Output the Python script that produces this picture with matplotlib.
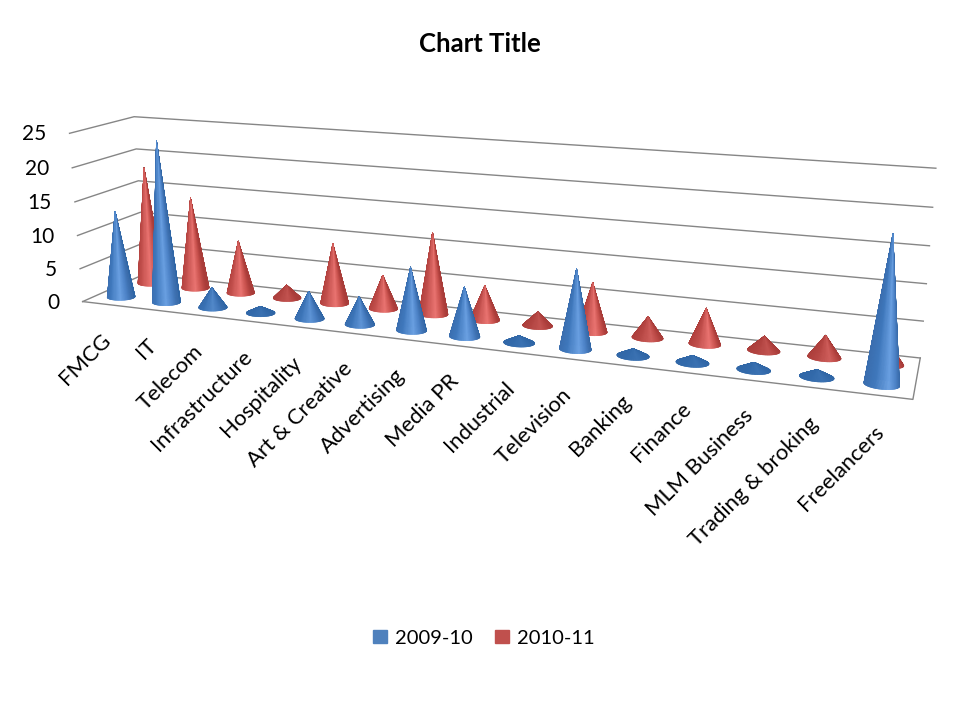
import numpy as np
import matplotlib
matplotlib.use('Agg')
import matplotlib.pyplot as plt
from matplotlib.collections import PolyCollection
from matplotlib.colors import LinearSegmentedColormap, to_rgb
from matplotlib.patches import Patch

plt.rcParams['font.family'] = ['Lato', 'DejaVu Sans']

categories = ['FMCG', 'IT', 'Telecom', 'Infrastructure', 'Hospitality', 'Art & Creative',
              'Advertising', 'Media PR', 'Industrial', 'Television', 'Banking', 'Finance',
              'MLM Business', 'Trading & broking', 'Freelancers']
values_2009 = [13, 24, 3, 1, 4, 4, 9, 7, 1, 11, 1, 1, 1, 1, 19]
values_2010 = [18, 14, 8, 2, 9, 5, 12, 5, 2, 7, 3, 5, 2, 3, 3]
y_ticks = [0, 5, 10, 15, 20, 25]

# reference points of the 3d chart: (category, depth, value) -> pixel
world = [(0, 0, 0), (15, 0, 0), (15, 1, 0), (0, 1, 0),
         (0, 0, 25), (15, 0, 25), (15, 1, 25), (0, 1, 25),
         (1.5, .25, 0), (7.5, .25, 0), (9.5, .25, 0), (14.5, .25, 0),
         (2.5, .75, 0), (7.5, .75, 0)]
pixel = [(83, 300), (911, 398), (919, 357), (146, 278),
         (69, 132), (929, 200), (936, 166), (135, 115),
         (167, 302), (464, 336), (575, 349), (887, 383),
         (238, 293), (484, 321)]

rows = []
for (a, b, c), (px, py) in zip(world, pixel):
    rows.append([a, b, c, 1, 0, 0, 0, 0, -px*a, -px*b, -px*c, -px])
    rows.append([0, 0, 0, 0, a, b, c, 1, -py*a, -py*b, -py*c, -py])
P = np.linalg.svd(np.array(rows, dtype=float))[2][-1].reshape(3, 4)


def project(a, b, c):
    q = P @ np.array([a, b, c, np.ones_like(a)], dtype=float)
    return q[0]/q[2], q[1]/q[2]


blue_map = LinearSegmentedColormap.from_list('b', [(0, '#3a6dae'), (.35, '#3f78bc'), (.72, '#6aa0e2'), (.9, '#4d83c8'), (1, '#3a6cab')])
red_map = LinearSegmentedColormap.from_list('r', [(0, '#b03f3c'), (.35, '#c24f4c'), (.72, '#ea7471'), (.9, '#c9524e'), (1, '#a93c39')])


def draw_cone(ax, i, depth, val, cmap, back, z):
    t = np.linspace(0, 2*np.pi, 145)
    mid = t[:-1] + np.pi/144
    bx, by = project(i + .5 + .27*np.cos(t), depth + .11*np.sin(t), 0*t)
    tx, ty = project(np.array(i + .5), np.array(depth), np.array(float(val)))
    # low cones look flat and dark, so the highlight fades out with the height
    w = min(1, val/5)
    polys, cols = [], []
    for k in np.argsort(-np.sin(mid)):
        polys.append([(bx[k], by[k]), (bx[k+1], by[k+1]), (tx, ty)])
        c = np.array(cmap((np.cos(mid[k]) + 1)/2)[:3])
        if np.sin(mid[k]) > 0:
            cols.append(to_rgb(back))
        else:
            cols.append(tuple(w*c + (1 - w)*np.array(to_rgb(back))))
    ax.add_collection(PolyCollection(polys, facecolors=cols, edgecolors=cols, linewidths=.4, zorder=z))


fig = plt.figure(figsize=(9.6, 7.2), dpi=100)
ax = fig.add_axes([0, 0, 1, 1])
ax.set_xlim(0, 960)
ax.set_ylim(720, 0)
ax.axis('off')

grid = '#868686'
for v in y_ticks:
    xs, ys = project(np.array([0, 0, 15.]), np.array([0, 1, 1.]), np.array([v, v, v], dtype=float))
    ax.plot(xs, ys, color=grid, lw=1, zorder=1)
    ax.text(xs[0] - 23, ys[0] + 1, str(v), ha='right', va='center', fontsize=15, color='black')

xs, ys = project(np.array([0, 15, 15.]), np.array([0, 0, 1.]), np.zeros(3))
ax.plot(xs, ys, color=grid, lw=1, zorder=1)

for i, name in enumerate(categories):
    lx, ly = project(np.array(i + .5), np.array(0.), np.array(0.))
    ax.text(lx + 2, ly + 33, name, rotation=45, rotation_mode='anchor', ha='right', va='center', fontsize=15.8, color='black')

for i in range(len(categories)):
    draw_cone(ax, i, .75, values_2010[i], red_map, '#a83d3a', 2 + i*.01)
for i in range(len(categories)):
    draw_cone(ax, i, .25, values_2009[i], blue_map, '#2f66a6', 3 + i*.01)

ax.text(480, 44, 'Chart Title', ha='center', va='center', fontsize=18.5, fontweight='bold', color='black')

handles = [Patch(color='#4f81bd', label='2009-10'), Patch(color='#c0504d', label='2010-11')]
ax.legend(handles=handles, ncol=2, loc='center', bbox_to_anchor=(484, 638), bbox_transform=ax.transData,
          frameon=False, fontsize=14.5, handlelength=.68, handleheight=.68, handletextpad=.4, columnspacing=1.1)

fig.savefig('out.png', dpi=100)
